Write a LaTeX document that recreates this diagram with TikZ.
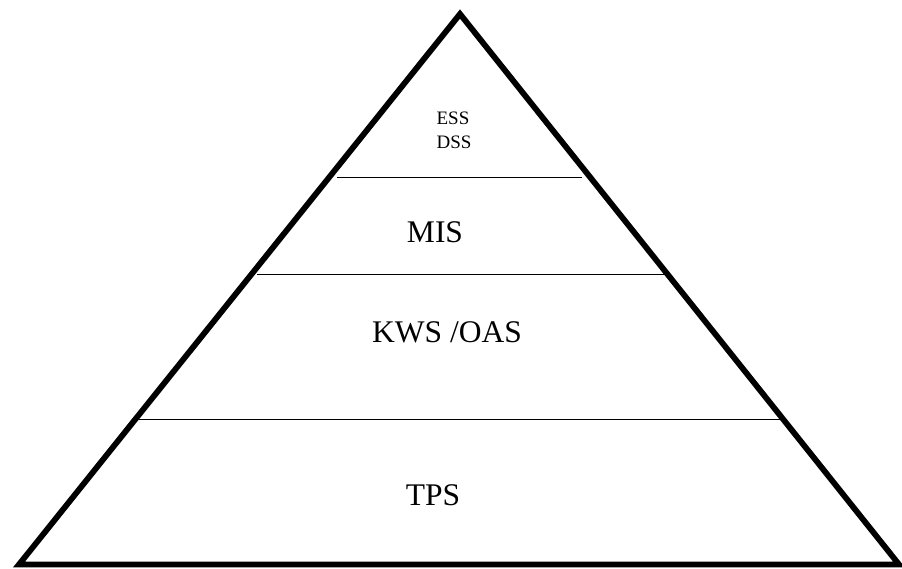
\documentclass[tikz,border=0pt]{standalone}
\usepackage{fontspec}
\setmainfont{Liberation Serif}
\begin{document}
\begin{tikzpicture}[x=1pt,y=-1pt,
  tri/.style={line width=5.8pt,line join=miter},
  tier/.style={line width=1.3pt},
  big/.style={anchor=base,inner sep=0pt,font=\fontsize{31.5}{38}\selectfont},
  small/.style={anchor=base,inner sep=0pt,font=\fontsize{19}{23}\selectfont}]
\useasboundingbox (0,0) rectangle (902,569);
\coordinate (apex) at (460,14);
\coordinate (bl) at (19,564.5);
\coordinate (br) at (899,564.5);
\draw[tri] (apex) -- (bl) -- (br) -- cycle;
\coordinate (l1a) at (337,177.5);
\coordinate (l1b) at (582,177.5);
\coordinate (l2a) at (257,274.5);
\coordinate (l2b) at (665,274.5);
\coordinate (l3a) at (139,419.5);
\coordinate (l3b) at (783,419.5);
\draw[tier] (l1a) -- (l1b);
\draw[tier] (l2a) -- (l2b);
\draw[tier] (l3a) -- (l3b);
\node[small] (ess) at (453,125) {ESS};
\node[small] (dss) at (454,149) {DSS};
\node[big] (mis) at (435,243) {MIS};
\node[big] (kws) at (447,342.5) {KWS /OAS};
\node[big] (tps) at (433,505) {TPS};
\end{tikzpicture}
\end{document}
